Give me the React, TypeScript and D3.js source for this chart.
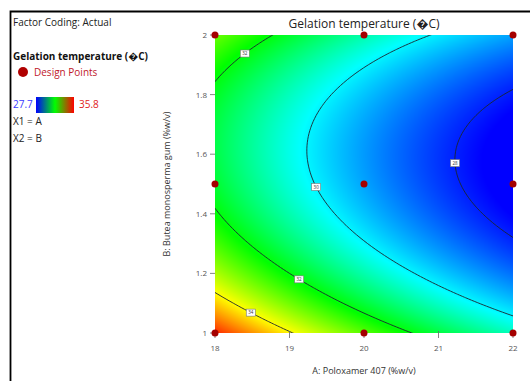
import React, { useMemo } from 'react';
import * as d3 from 'd3';

// fitted quadratic model in coded units: x = (A-20)/2, y = (B-1.5)/0.5
// [intercept, x, y, xy, x^2, y^2]
const modelCoef = [29.255, -2.145, -1.0, 0.31, 0.32, 2.5];
const contourLevels = [28, 30, 32, 34];
const colorRange = [27.7, 35.8];
// response values where the colour map passes blue, cyan, green, yellow, red
const colorStops = [27.7, 30.1, 32.1, 34.0, 35.8];
const aTicks = [18, 19, 20, 21, 22];
const bTicks = [1, 1.2, 1.4, 1.6, 1.8, 2];
const designA = [18, 18, 18, 20, 20, 20, 22, 22, 22];
const designB = [1, 1.5, 2, 1, 1.5, 2, 1, 1.5, 2];
const labelLevels = [32, 30, 32, 34, 28];
const labelA = [18.4, 19.34, 19.14, 18.51, 21.22];
const labelB = [1.94, 1.49, 1.185, 1.074, 1.57];

const W = 530, H = 381;
const plot = { left: 215, right: 513, top: 35, bottom: 333 };
const FONT = '"Open Sans", "DejaVu Sans", sans-serif';
const DEG = '\uFFFD';

function response(A: number, B: number) {
    const x = (A - 20) / 2;
    const y = (B - 1.5) / 0.5;
    const [c0, c1, c2, c12, c11, c22] = modelCoef;
    return c0 + c1 * x + c2 * y + c12 * x * y + c11 * x * x + c22 * y * y;
}

export default function App() {
    const x = d3.scaleLinear().domain([18, 22]).range([plot.left, plot.right]);
    const y = d3.scaleLinear().domain([1, 2]).range([plot.bottom, plot.top]);

    const color = d3.scaleLinear<string>()
        .domain(colorStops)
        .range(['#0000ff', '#00ffff', '#00ff00', '#ffff00', '#ff0000'])
        .clamp(true);

    // heat map as an image
    const heatUrl = useMemo(() => {
        const w = plot.right - plot.left, h = plot.bottom - plot.top;
        const canvas = document.createElement('canvas');
        canvas.width = w; canvas.height = h;
        const ctx = canvas.getContext('2d');
        if (!ctx) return '';
        const img = ctx.createImageData(w, h);
        for (let j = 0; j < h; j++) {
            for (let i = 0; i < w; i++) {
                const A = x.invert(plot.left + i + 0.5);
                const B = y.invert(plot.top + j + 0.5);
                const c = d3.rgb(color(response(A, B)));
                const k = (j * w + i) * 4;
                img.data[k] = c.r; img.data[k + 1] = c.g; img.data[k + 2] = c.b; img.data[k + 3] = 255;
            }
        }
        ctx.putImageData(img, 0, 0);
        return canvas.toDataURL();
    }, []);

    // contour grid, padded beyond the plot so the outer edges get clipped away
    const dA = 0.04, dB = 0.01, pad = 3;
    const nx = Math.round(4 / dA) + 1 + 2 * pad;
    const ny = Math.round(1 / dB) + 1 + 2 * pad;
    const A0 = 18 - pad * dA, B0 = 1 - pad * dB;
    const values: number[] = [];
    for (let j = 0; j < ny; j++)
        for (let i = 0; i < nx; i++)
            values.push(response(A0 + i * dA, B0 + j * dB));
    const contours = d3.contours().size([nx, ny]).thresholds(contourLevels)(values);
    const toPx = (gx: number, gy: number): [number, number] =>
        [x(A0 + (gx - 0.5) * dA), y(B0 + (gy - 0.5) * dB)];
    const path = d3.geoPath(d3.geoTransform({
        point(px: number, py: number) {
            const p = toPx(px, py);
            (this as any).stream.point(p[0], p[1]);
        }
    }));

    // labels snap to nearest contour vertex
    const labels = labelLevels.map((lv, i) => {
        const c = contours.find(c => c.value === lv);
        const tx = x(labelA[i]), ty = y(labelB[i]);
        let best: [number, number] = [tx, ty], bd = Infinity;
        c?.coordinates.forEach(poly => poly.forEach(ring => ring.forEach(pt => {
            const p = toPx(pt[0], pt[1]);
            const d = (p[0] - tx) ** 2 + (p[1] - ty) ** 2;
            if (d < bd) { bd = d; best = p; }
        })));
        return { lv, p: best };
    });

    // legend bar: blue - green - red
    const legendColors = ['#0000ff', '#00ff00', '#ff0000'];

    return (
        <div style={{ position: 'fixed', left: 0, top: 0 }}>
            <svg width={W} height={H} style={{ display: 'block', fontFamily: FONT }}>
                <defs>
                    <clipPath id="plotClip">
                        <rect x={plot.left} y={plot.top} width={plot.right - plot.left} height={plot.bottom - plot.top} />
                    </clipPath>
                    <linearGradient id="legendGrad" x1="0" x2="1" y1="0" y2="0">
                        {legendColors.map((c, i) => (
                            <stop key={i} offset={i / (legendColors.length - 1)} stopColor={c} />
                        ))}
                    </linearGradient>
                </defs>
                <rect x={0} y={0} width={W} height={H} fill="#fff" />
                <path d={`M10.5,${H} V11.5 H${W}`} fill="none" stroke="#000" strokeWidth={1.8} />

                {/* left legend */}
                <text x={13} y={26} fontSize={10} fill="#222">Factor Coding: Actual</text>
                <text x={13} y={60} fontSize={10} fontWeight="bold" fill="#111">{`Gelation temperature  (${DEG}C)`}</text>
                <circle cx={23} cy={72} r={5} fill="#b00000" />
                <text x={34} y={76} fontSize={10} fill="#c0182a">Design Points</text>
                <text x={13} y={108} fontSize={10} fill="#3a3aff">{colorRange[0]}</text>
                <rect x={36} y={97} width={38} height={16} fill="url(#legendGrad)" />
                <text x={79} y={108} fontSize={10} fill="#e02020">{colorRange[1]}</text>
                <text x={13} y={125} fontSize={10} fill="#222">X1 = A</text>
                <text x={13} y={142} fontSize={10} fill="#222">X2 = B</text>

                {/* title */}
                <text x={(plot.left + plot.right) / 2} y={28} fontSize={12} textAnchor="middle" fill="#222">
                    {`Gelation temperature  (${DEG}C)`}
                </text>

                {/* surface */}
                {heatUrl && (
                    <image href={heatUrl} x={plot.left} y={plot.top} width={plot.right - plot.left}
                        height={plot.bottom - plot.top} preserveAspectRatio="none" />
                )}
                <g clipPath="url(#plotClip)">
                    {contours.map(c => (
                        <path key={c.value} d={path(c as any) || ''} fill="none" stroke="#1c2530" strokeWidth={0.9} />
                    ))}
                </g>
                {labels.map((l, i) => (
                    <g key={i} transform={`translate(${l.p[0]},${l.p[1]})`}>
                        <rect x={-4.5} y={-3.5} width={9} height={7} fill="#fff" stroke="#777" strokeWidth={0.6} />
                        <text y={1.8} fontSize={4.5} textAnchor="middle" fill="#333">{l.lv}</text>
                    </g>
                ))}

                {/* axes */}
                {aTicks.map(t => (
                    <g key={t}>
                        <line x1={x(t)} x2={x(t)} y1={plot.bottom - 2} y2={plot.bottom + 5} stroke="#666" strokeWidth={0.8} />
                        <text x={x(t)} y={351} fontSize={8} textAnchor="middle" fill="#555">{t}</text>
                    </g>
                ))}
                {bTicks.map(t => (
                    <g key={t}>
                        <line x1={plot.left - 5} x2={plot.left} y1={y(t)} y2={y(t)} stroke="#666" strokeWidth={0.8} />
                        <text x={plot.left - 8} y={y(t) + 3} fontSize={8} textAnchor="end" fill="#555">{t}</text>
                    </g>
                ))}
                <text x={(plot.left + plot.right) / 2} y={374} fontSize={9} textAnchor="middle" fill="#333">
                    A: Poloxamer 407 (%w/v)
                </text>
                <text transform={`translate(170,${(plot.top + plot.bottom) / 2}) rotate(-90)`} fontSize={9}
                    textAnchor="middle" fill="#333">
                    B: Butea monosperma gum  (%w/v)
                </text>

                {/* design points */}
                {designA.map((a, i) => (
                    <circle key={i} cx={x(a)} cy={y(designB[i])} r={3.5} fill="#a50000" />
                ))}
            </svg>
        </div>
    );
}
